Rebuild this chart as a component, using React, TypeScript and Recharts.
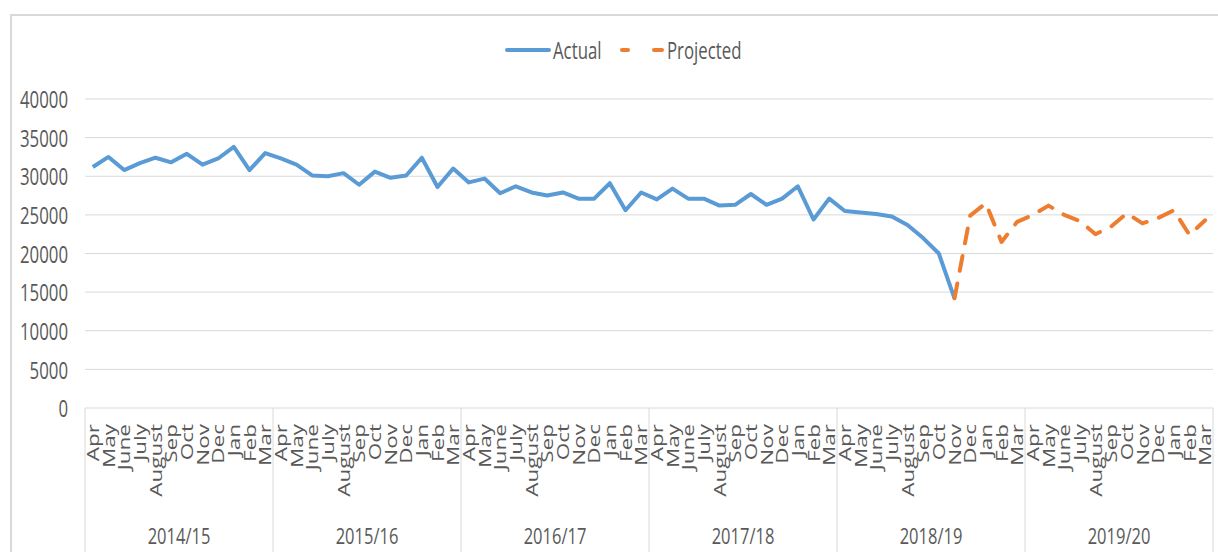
import { LineChart, Line, XAxis, YAxis, CartesianGrid } from 'recharts';

const months = ['Apr', 'May', 'June', 'July', 'August', 'Sep', 'Oct', 'Nov', 'Dec', 'Jan', 'Feb', 'Mar'];
const years = ['2014/15', '2015/16', '2016/17', '2017/18', '2018/19', '2019/20'];

// Apr 2014 .. Nov 2018
const actual = [
    31200, 32500, 30800, 31700, 32400, 31800, 32900, 31500, 32300, 33800, 30800, 33000,
    32300, 31500, 30100, 30000, 30400, 28900, 30600, 29800, 30100, 32400, 28600, 31000,
    29200, 29700, 27800, 28700, 27900, 27500, 27900, 27100, 27100, 29100, 25600, 27900,
    27000, 28400, 27100, 27100, 26200, 26300, 27700, 26300, 27100, 28700, 24400, 27100,
    25500, 25300, 25100, 24800, 23700, 22000, 20000, 14200,
];

// Nov 2018 .. Mar 2020
const projected = [
    14200, 24900, 26500, 21500, 24100,
    25000, 26200, 25000, 24200, 22500, 23500, 25200, 23900, 24600, 25600, 22400, 24300,
];
const projectedStart = actual.length - 1;

const yTicks = [0, 5000, 10000, 15000, 20000, 25000, 30000, 35000, 40000];

const data = years.flatMap((year, yi) =>
    months.map((month, mi) => {
        const i = yi * months.length + mi;
        return {
            key: `${year}-${month}`,
            month,
            year,
            actual: i < actual.length ? actual[i] : null,
            projected: i >= projectedStart ? projected[i - projectedStart] : null,
        };
    })
);

const CHART_W = 1218;
const CHART_H = 552;
const MARGIN = { top: 99, right: 5, left: 0, bottom: 0 };
const Y_AXIS_W = 85;
const X_AXIS_H = 144;
const BAND = (CHART_W - MARGIN.left - MARGIN.right - Y_AXIS_W) / data.length;

const FONT = '"Open Sans", sans-serif';
const TEXT = '#595959';
const GRID = '#d9d9d9';
const SX = 0.73; // the original text is set narrow

function MonthTick(props: any) {
    const { x, y, payload, index } = props;
    const row = data[index];
    const first = index % months.length === 0;
    const last = index === data.length - 1;
    return (
        <g>
            <g transform={`translate(${x},${y + 16}) scale(${SX},1) rotate(-90)`}>
                <text textAnchor="end" dominantBaseline="central" fontSize={22.5} fontFamily={FONT} fill={TEXT}>
                    {row ? row.month : payload.value}
                </text>
            </g>
            {first && (
                <>
                    <line x1={x - BAND / 2} x2={x - BAND / 2} y1={y} y2={y + X_AXIS_H} stroke={GRID} strokeWidth={1} />
                    <g transform={`translate(${x - BAND / 2 + (months.length / 2) * BAND},${y + 136}) scale(0.75,1)`}>
                        <text textAnchor="middle" fontSize={22} fontFamily={FONT} fill={TEXT}>
                            {row.year}
                        </text>
                    </g>
                </>
            )}
            {last && <line x1={x + BAND / 2} x2={x + BAND / 2} y1={y} y2={y + X_AXIS_H} stroke={GRID} strokeWidth={1} />}
        </g>
    );
}

function ValueTick(props: any) {
    const { x, y, payload } = props;
    return (
        <g transform={`translate(${x - 17},${y}) scale(${SX},1)`}>
            <text textAnchor="end" dominantBaseline="central" fontSize={23} fontFamily={FONT} fill={TEXT}>
                {payload.value}
            </text>
        </g>
    );
}

function ChartLegend() {
    return (
        <svg width={CHART_W} height={80} style={{ position: 'absolute', left: 0, top: 0 }}>
            <line x1={507} x2={549} y1={50} y2={50} stroke="#5B9BD5" strokeWidth={4} strokeLinecap="round" />
            <text transform={`translate(553,59) scale(${SX},1)`} fontSize={23} fontFamily={FONT} fill={TEXT}>
                Actual
            </text>
            <line x1={622} x2={628} y1={50} y2={50} stroke="#ED7D31" strokeWidth={4} strokeLinecap="round" />
            <line x1={654} x2={662} y1={50} y2={50} stroke="#ED7D31" strokeWidth={4} strokeLinecap="round" />
            <text transform={`translate(667,59) scale(${SX},1)`} fontSize={23} fontFamily={FONT} fill={TEXT}>
                Projected
            </text>
        </svg>
    );
}

export default function App() {
    return (
        <div style={{ position: 'relative', width: CHART_W, height: CHART_H, overflow: 'hidden', background: '#fff' }}>
            <style>{'body { margin: 0; }'}</style>
            <div
                style={{
                    position: 'absolute',
                    left: 10,
                    top: 14,
                    width: 1300,
                    height: 700,
                    border: `2px solid ${GRID}`,
                }}
            />
            <div style={{ position: 'absolute', left: 0, top: 0 }}>
                <LineChart width={CHART_W} height={CHART_H} data={data} margin={MARGIN}>
                    <CartesianGrid stroke={GRID} vertical={false} />
                    <XAxis
                        dataKey="key"
                        scale="band"
                        interval={0}
                        height={X_AXIS_H}
                        axisLine={false}
                        tickLine={false}
                        tickSize={0}
                        tickMargin={0}
                        tick={<MonthTick />}
                    />
                    <YAxis
                        width={Y_AXIS_W}
                        domain={[0, 40000]}
                        ticks={yTicks}
                        axisLine={false}
                        tickLine={false}
                        tickSize={0}
                        tickMargin={0}
                        tick={<ValueTick />}
                    />
                    <Line
                        dataKey="actual"
                        stroke="#5B9BD5"
                        strokeWidth={4}
                        strokeLinejoin="round"
                        dot={false}
                        isAnimationActive={false}
                    />
                    <Line
                        dataKey="projected"
                        stroke="#ED7D31"
                        strokeWidth={4}
                        strokeDasharray="15 13"
                        strokeLinecap="round"
                        strokeLinejoin="round"
                        dot={false}
                        isAnimationActive={false}
                    />
                </LineChart>
            </div>
            <ChartLegend />
        </div>
    );
}
